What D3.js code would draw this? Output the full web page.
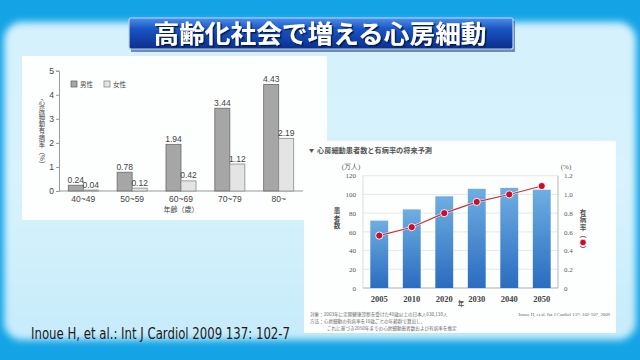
<!DOCTYPE html>
<html><head><meta charset="utf-8">
<script src="https://cdn.jsdelivr.net/npm/d3@7"></script>
<style>html,body{margin:0;padding:0;background:#12a2e4;}svg{display:block;}</style>
</head><body>
<svg id="c" width="640" height="360"></svg>
<script>
// ---- data ----
const title = "高齢化社会で増える心房細動";
const ageGroups = ["40~49","50~59","60~69","70~79","80~"];
const sexes = ["男性","女性"];
const maleRate = [0.24,0.78,1.94,3.44,4.43];
const femaleRate = [0.04,0.12,0.42,1.12,2.19];
const leftTicks = [0,1,2,3,4,5];
const years = ["2005","2010","2020","2030","2040","2050"];
const patients = [72,84,98,106,107,105];
const prevalence = [0.56,0.65,0.80,0.92,1.00,1.09];
const patientTicks = [0,20,40,60,80,100,120];
const prevTicks = [0,0.2,0.4,0.6,0.8,1.0,1.2];
const citation = "Inoue H, et al.: Int J Cardiol 2009 137: 102-7";
const rightTitle = "心房細動患者数と有病率の将来予測";
const notes = ["対象：2003年に定期健康診断を受けた40歳以上の日本人630,138人",
               "方法：心房細動の有病率を10歳ごとの年齢群で算出し、",
               "これに基づき2050年までの心房細動患者数および有病率を推定"];
const rightCite = "Inoue H, et al. Int J Cardiol 137: 102-107, 2009";

const svg = d3.select("#c");
const defs = svg.append("defs");
const jp = "'Noto Sans CJK JP','Noto Sans',sans-serif";
const serif = "'Liberation Serif','DejaVu Serif',serif";
const sans = "'Liberation Sans',Arial,sans-serif";

// vertical text (single element, vertical writing mode)
function vtext(g, str, x, y0, attrs){
  const t = g.append("text").attr("x",x).attr("y",y0)
    .style("writing-mode","vertical-rl").style("text-orientation","mixed");
  Object.entries(attrs).forEach(([k,v])=>t.attr(k,v));
  t.text(str);
  return t;
}

// ---- background ----
const bgGrad = defs.append("linearGradient").attr("id","bgG").attr("x1",0).attr("y1",0).attr("x2",0).attr("y2",1);
bgGrad.append("stop").attr("offset",0).attr("stop-color","#d3f1fc");
bgGrad.append("stop").attr("offset",0.5).attr("stop-color","#d8f3fd");
bgGrad.append("stop").attr("offset",1).attr("stop-color","#c6ebfa");
defs.append("filter").attr("id","soft").attr("x","-5%").attr("y","-5%").attr("width","110%").attr("height","110%")
  .append("feGaussianBlur").attr("stdDeviation",3.5);
const sh = defs.append("filter").attr("id","tsh").attr("x","-5%").attr("y","-20%").attr("width","110%").attr("height","140%");
sh.append("feDropShadow").attr("dx",1.5).attr("dy",1.5).attr("stdDeviation",0.6).attr("flood-color","#06183f").attr("flood-opacity",0.9);
svg.append("rect").attr("width",640).attr("height",360).attr("fill","#14a4e6");
svg.append("rect").attr("x",4).attr("y",22).attr("width",632).attr("height",318).attr("rx",18)
  .attr("fill","url(#bgG)").attr("filter","url(#soft)");

// ---- title banner ----
const tg = defs.append("linearGradient").attr("id","tG").attr("x1",0).attr("y1",0).attr("x2",0).attr("y2",1);
tg.append("stop").attr("offset",0).attr("stop-color","#4f8fe8");
tg.append("stop").attr("offset",0.35).attr("stop-color","#1a55c4");
tg.append("stop").attr("offset",1).attr("stop-color","#0a2f8c");
svg.append("rect").attr("x",131).attr("y",21).attr("width",384).attr("height",31).attr("fill","#0a2a6a").attr("opacity",0.5);
svg.append("rect").attr("x",129).attr("y",18).attr("width",384).attr("height",31).attr("rx",2)
  .attr("fill","url(#tG)").attr("stroke","#bcd6f6").attr("stroke-width",1.2);
svg.append("text").attr("x",320).attr("y",42.5).attr("text-anchor","middle")
  .attr("font-family",jp).attr("font-weight",700).attr("font-size",25)
  .attr("textLength",333).attr("lengthAdjust","spacingAndGlyphs")
  .attr("fill","#ffffff").attr("filter","url(#tsh)").text(title);

// ---- panels ----
svg.append("rect").attr("x",22).attr("y",56).attr("width",305).attr("height",164).attr("fill","#fdfefe");
svg.append("rect").attr("x",304).attr("y",141).attr("width",312).attr("height",192).attr("fill","#fdfefe");

// ---- left chart ----
const L = svg.append("g");
const x0 = d3.scaleBand().domain(ageGroups).range([59,303]).paddingInner(0.385).paddingOuter(0.19);
const x1 = d3.scaleBand().domain(sexes).range([0,x0.bandwidth()]);
const yL = d3.scaleLinear().domain([0,5]).range([191,70.7]);
const leftData = ageGroups.map((a,i)=>({age:a, vals:[{s:"男性",v:maleRate[i]},{s:"女性",v:femaleRate[i]}]}));
const fillSex = {"男性":"#a6a6a6","女性":"#e4e4e4"};
const strokeSex = {"男性":"#6a6a6a","女性":"#8a8a8a"};

const yAx = L.append("g").attr("transform","translate(59,0)")
  .call(d3.axisLeft(yL).tickValues(leftTicks).tickSize(3).tickPadding(2).tickFormat(d3.format("d")));
yAx.select(".domain").attr("stroke","#999");
yAx.selectAll(".tick line").attr("stroke","#999");
yAx.selectAll("text").attr("font-family",sans).attr("font-size",8.5).attr("fill","#444");

const xAx = L.append("g").attr("transform","translate(0,191)")
  .call(d3.axisBottom(x0).tickSize(0).tickPadding(5));
xAx.select(".domain").attr("stroke","#999").attr("d","M59,0H303");
xAx.selectAll("text").attr("font-family",sans).attr("font-size",8.5).attr("fill","#444");

const grp = L.selectAll(".grp").data(leftData).join("g").attr("transform",d=>`translate(${x0(d.age)},0)`);
grp.selectAll("rect").data(d=>d.vals).join("rect")
  .attr("x",d=>x1(d.s)).attr("width",x1.bandwidth())
  .attr("y",d=>yL(d.v)).attr("height",d=>yL(0)-yL(d.v))
  .attr("fill",d=>fillSex[d.s]).attr("stroke",d=>strokeSex[d.s]).attr("stroke-width",0.8);
grp.selectAll("text").data(d=>d.vals).join("text")
  .attr("x",d=>x1(d.s)+x1.bandwidth()/2).attr("y",d=>yL(d.v)-2.5)
  .attr("text-anchor","middle").attr("font-family",sans).attr("font-size",8.5).attr("fill","#444")
  .text(d=>d.v.toFixed(2));

// legend
sexes.forEach((s,i)=>{
  const lx = 71 + i*33;
  L.append("rect").attr("x",lx).attr("y",81).attr("width",6).attr("height",6)
    .attr("fill",fillSex[s]).attr("stroke",strokeSex[s]).attr("stroke-width",0.8);
  L.append("text").attr("x",lx+9).attr("y",87).attr("font-family",jp).attr("font-size",6.5).attr("fill","#444").text(s);
});
// axis titles
vtext(L, "心房細動有病率（%）", 42, 99, {"font-family":jp,"font-size":6.4,"fill":"#444","letter-spacing":0.6});
L.append("text").attr("x",181).attr("y",212).attr("text-anchor","middle").attr("font-family",jp)
  .attr("font-size",7).attr("fill","#444").text("年齢（歳）");

// ---- right chart ----
const R = svg.append("g");
const xb = d3.scaleBand().domain(years).range([363,558]).paddingInner(0.45).paddingOuter(0.225);
const yP = d3.scaleLinear().domain([0,120]).range([288,175.7]);
const yR = d3.scaleLinear().domain([0,1.2]).range([288,175.7]);

R.append("text").attr("x",309).attr("y",152).attr("font-family",jp).attr("font-size",5).attr("fill","#555").text("▼");
R.append("text").attr("x",317).attr("y",153).attr("font-family",jp).attr("font-weight",700).attr("font-size",7.2)
  .attr("fill","#555").text(rightTitle);

// grid
R.selectAll(".grid").data(patientTicks.filter(d=>d>0)).join("line")
  .attr("x1",363).attr("x2",558).attr("y1",d=>yP(d)).attr("y2",d=>yP(d))
  .attr("stroke","#dcdcdc").attr("stroke-width",0.7);
R.append("line").attr("x1",363).attr("x2",558).attr("y1",yP(0)).attr("y2",yP(0)).attr("stroke","#999").attr("stroke-width",0.8);
R.append("line").attr("x1",363).attr("x2",363).attr("y1",yP(0)).attr("y2",yP(120)).attr("stroke","#cfcfcf").attr("stroke-width",0.7);
R.append("line").attr("x1",558).attr("x2",558).attr("y1",yP(0)).attr("y2",yP(120)).attr("stroke","#999").attr("stroke-width",0.7);

const la = R.append("g").attr("transform","translate(363,0)")
  .call(d3.axisLeft(yP).tickValues(patientTicks).tickSize(0).tickPadding(7));
la.select(".domain").remove();
la.selectAll("text").attr("font-family",serif).attr("font-size",7).attr("fill","#555");
const ra = R.append("g").attr("transform","translate(558,0)")
  .call(d3.axisRight(yR).tickValues(prevTicks).tickSize(0).tickPadding(6).tickFormat(d=>d===0?"0":d3.format(".1f")(d)));
ra.select(".domain").remove();
ra.selectAll("text").attr("font-family",serif).attr("font-size",7).attr("fill","#555");

R.append("text").attr("x",351).attr("y",169).attr("text-anchor","middle").attr("font-family",serif)
  .attr("font-size",7).attr("fill","#555").text("(万人)");
R.append("text").attr("x",566).attr("y",169).attr("text-anchor","middle").attr("font-family",serif)
  .attr("font-size",7).attr("fill","#555").text("(%)");

const bg = defs.append("linearGradient").attr("id","barG").attr("x1",0).attr("y1",0).attr("x2",0).attr("y2",1);
bg.append("stop").attr("offset",0).attr("stop-color","#6eaee2");
bg.append("stop").attr("offset",1).attr("stop-color","#2a6cc0");
R.selectAll(".bar").data(years.map((y,i)=>({y,v:patients[i]}))).join("rect")
  .attr("x",d=>xb(d.y)).attr("width",xb.bandwidth())
  .attr("y",d=>yP(d.v)).attr("height",d=>yP(0)-yP(d.v)).attr("fill","url(#barG)");

const pts = years.map((y,i)=>({y,v:prevalence[i]}));
const line = d3.line().x(d=>xb(d.y)+xb.bandwidth()/2).y(d=>yR(d.v));
R.append("path").datum(pts).attr("d",line).attr("fill","none").attr("stroke","#ffffff").attr("stroke-width",2.4).attr("opacity",0.8);
R.append("path").datum(pts).attr("d",line).attr("fill","none").attr("stroke","#c4303a").attr("stroke-width",1.1);
R.selectAll(".dot").data(pts).join("circle")
  .attr("cx",d=>xb(d.y)+xb.bandwidth()/2).attr("cy",d=>yR(d.v)).attr("r",3.6)
  .attr("fill","#c8102e").attr("stroke","#ffffff").attr("stroke-width",0.9);

const xa = R.append("g").attr("transform","translate(0,288)")
  .call(d3.axisBottom(xb).tickSize(0).tickPadding(8));
xa.select(".domain").remove();
xa.selectAll("text").attr("font-family",serif).attr("font-weight",700).attr("font-size",8.5).attr("fill","#444");
R.append("text").attr("x",461).attr("y",306).attr("text-anchor","middle").attr("font-family",jp)
  .attr("font-weight",700).attr("font-size",6.5).attr("fill","#555").text("年");

vtext(R, "患者数", 337, 207, {"font-family":jp,"font-weight":700,"font-size":6.6,"fill":"#555","letter-spacing":1.2});
vtext(R, "有病率（　）", 583, 209, {"font-family":jp,"font-weight":700,"font-size":6.6,"fill":"#555","letter-spacing":0.8});
R.append("circle").attr("cx",583).attr("cy",242.5).attr("r",3.2).attr("fill","#c8102e").attr("stroke","#fff").attr("stroke-width",0.6);

// footnotes
R.append("text").attr("x",310).attr("y",316).attr("font-family",jp).attr("font-size",4.6).attr("fill","#666").text(notes[0]);
R.append("text").attr("x",310).attr("y",323).attr("font-family",jp).attr("font-size",4.6).attr("fill","#666").text(notes[1]);
R.append("text").attr("x",327).attr("y",330).attr("font-family",jp).attr("font-size",4.6).attr("fill","#666").text(notes[2]);
R.append("text").attr("x",610).attr("y",316).attr("text-anchor","end").attr("font-family",serif).attr("font-size",4.8).attr("fill","#666").text(rightCite);

// citation
svg.append("text").attr("x",31).attr("y",339).attr("font-family","'Liberation Sans Narrow','DejaVu Sans Condensed',sans-serif")
  .attr("font-size",15).attr("textLength",259).attr("lengthAdjust","spacingAndGlyphs").attr("fill","#1a1a1a").text(citation);
</script>
</body></html>
